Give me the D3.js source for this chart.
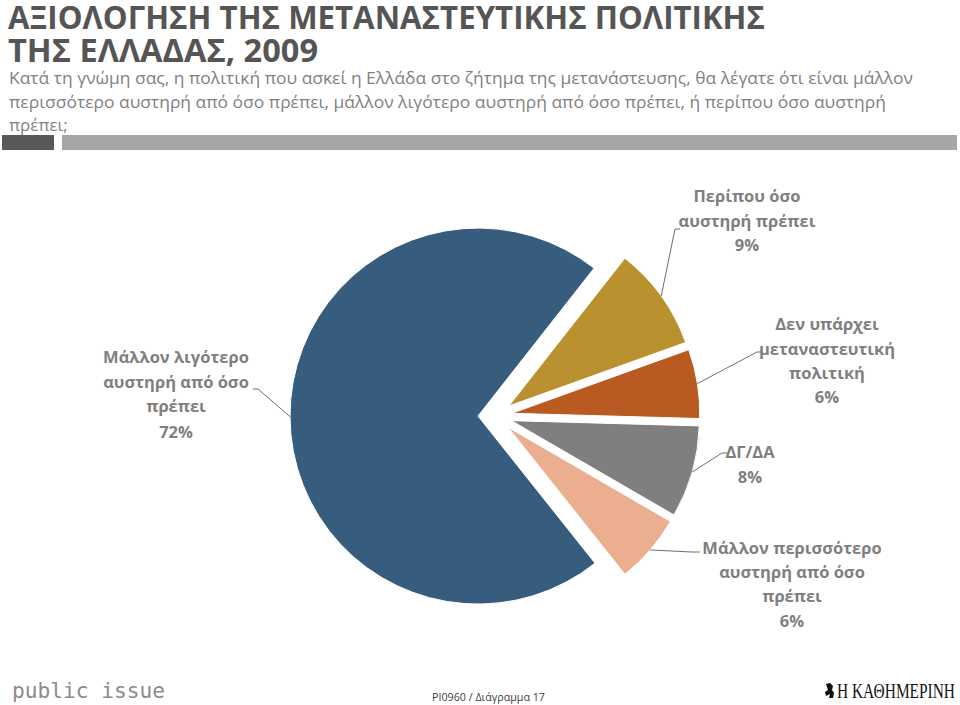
<!DOCTYPE html>
<html>
<head>
<meta charset="utf-8">
<script src="https://cdn.jsdelivr.net/npm/d3@7/dist/d3.min.js"></script>
<style>
  html, body { margin: 0; padding: 0; background: #fff; }
  svg { display: block; }
</style>
</head>
<body>
<script>
// ---------------- DATA ----------------
const categories = [
  "Μάλλον λιγότερο αυστηρή από όσο πρέπει",
  "Περίπου όσο αυστηρή πρέπει",
  "Δεν υπάρχει μεταναστευτική πολιτική",
  "ΔΓ/ΔΑ",
  "Μάλλον περισσότερο αυστηρή από όσο πρέπει"
];
const values = [72, 9, 6, 8, 6];
const labelLines = [
  ["Μάλλον λιγότερο", "αυστηρή από όσο", "πρέπει", "72%"],
  ["Περίπου όσο", "αυστηρή πρέπει", "9%"],
  ["Δεν υπάρχει", "μεταναστευτική", "πολιτική", "6%"],
  ["ΔΓ/ΔΑ", "8%"],
  ["Μάλλον περισσότερο", "αυστηρή από όσο", "πρέπει", "6%"]
];
const colors = ["#365C7E", "#B9912F", "#B95A22", "#7F7F7F", "#EBAE8F"];

const titleLines = ["ΑΞΙΟΛΟΓΗΣΗ ΤΗΣ ΜΕΤΑΝΑΣΤΕΥΤΙΚΗΣ ΠΟΛΙΤΙΚΗΣ", "ΤΗΣ ΕΛΛΑΔΑΣ, 2009"];
const subtitleLines = [
  "Κατά τη γνώμη σας, η πολιτική που ασκεί η Ελλάδα στο ζήτημα της μετανάστευσης, θα λέγατε ότι είναι μάλλον",
  "περισσότερο αυστηρή από όσο πρέπει, μάλλον λιγότερο αυστηρή από όσο πρέπει, ή περίπου όσο αυστηρή",
  "πρέπει;"
];
const footerCode = "PI0960 / Διάγραμμα 17";
const brandLeft = "public issue";
const brandRight = "Η ΚΑΘΗΜΕΡΙΝΗ";

// ---------------- LAYOUT ----------------
const W = 960, H = 705;
const cx = 495, cy = 416, R = 188, explode = 17;
const startDeg = 141.5;

const labelLayout = [
  { x: 176, y: 363, gaps: [24.5, 24.5, 26], elbow: [[258, 389], [253, 389]] },
  { x: 747, y: 202, gaps: [24.5, 24.5], elbow: [[675, 229], [680, 229]] },
  { x: 827, y: 330, gaps: [24.5, 24.5, 24], elbow: [[757, 352], [762, 352]] },
  { x: 750, y: 458, gaps: [24.5], elbow: [[722, 453], [727, 453]] },
  { x: 792, y: 554, gaps: [24, 24, 24.5], elbow: [[692, 552], [700, 552]] }
];

const svg = d3.select("body").append("svg")
  .attr("width", W).attr("height", H)
  .attr("viewBox", `0 0 ${W} ${H}`);

const SANS = "'Open Sans', 'Noto Sans', 'DejaVu Sans', sans-serif";

// ---------------- TITLE ----------------
const titleG = svg.append("g")
  .attr("font-family", SANS).attr("font-weight", 700)
  .attr("fill", "#555555").attr("font-size", 32);
titleG.append("text").attr("x", 8).attr("y", 29)
  .attr("textLength", 757).attr("lengthAdjust", "spacingAndGlyphs")
  .text(titleLines[0]);
titleG.append("text").attr("x", 8).attr("y", 62)
  .attr("textLength", 310).attr("lengthAdjust", "spacingAndGlyphs")
  .text(titleLines[1]);

const subG = svg.append("g")
  .attr("font-family", SANS).attr("fill", "#7F7F7F").attr("font-size", 17);
const subLens = [904, 877, null];
subtitleLines.forEach((t, i) => {
  const el = subG.append("text").attr("x", 9).attr("y", 84 + i * 23.5).text(t);
  if (subLens[i]) el.attr("textLength", subLens[i]).attr("lengthAdjust", "spacingAndGlyphs");
});

// separator bars
svg.append("rect").attr("x", 2).attr("y", 135).attr("width", 52).attr("height", 15).attr("fill", "#595959");
svg.append("rect").attr("x", 62).attr("y", 135).attr("width", 895).attr("height", 15).attr("fill", "#A6A6A6");

// ---------------- PIE ----------------
const toRad = d => d * Math.PI / 180;
const pie = d3.pie().sort(null).value(d => d)
  .startAngle(toRad(startDeg)).endAngle(toRad(startDeg) + 2 * Math.PI);
const arcs = pie(values);
const arc = d3.arc().innerRadius(0).outerRadius(R);

const pieG = svg.append("g").attr("transform", `translate(${cx},${cy})`);
arcs.forEach((a, i) => {
  const mid = (a.startAngle + a.endAngle) / 2;
  const dx = explode * Math.sin(mid), dy = -explode * Math.cos(mid);
  pieG.append("path")
    .attr("d", arc(a))
    .attr("transform", `translate(${dx},${dy})`)
    .attr("fill", colors[i])
    .attr("stroke", "#fff").attr("stroke-width", 1);
});

// ---------------- LABELS & LEADERS ----------------
const labG = svg.append("g")
  .attr("font-family", SANS).attr("font-weight", 700)
  .attr("font-size", 16.5).attr("fill", "#7F7F7F").attr("text-anchor", "middle");
const lineG = svg.append("g").attr("fill", "none").attr("stroke", "#6F6F6F").attr("stroke-width", 1);

arcs.forEach((a, i) => {
  const mid = (a.startAngle + a.endAngle) / 2;
  const rr = R + explode;
  const px = cx + rr * Math.sin(mid), py = cy - rr * Math.cos(mid);
  const L = labelLayout[i];
  const pts = [[px, py], ...L.elbow];
  lineG.append("path").attr("d", d3.line()(pts));
  let y = L.y;
  labelLines[i].forEach((t, j) => {
    labG.append("text").attr("x", L.x).attr("y", y).text(t);
    if (j < L.gaps.length) y += L.gaps[j];
  });
});

// ---------------- FOOTER ----------------
svg.append("text").attr("x", 12).attr("y", 698)
  .attr("font-family", "'DejaVu Sans Mono', monospace").attr("font-size", 21)
  .attr("fill", "#8C8C8C")
  .attr("textLength", 153).attr("lengthAdjust", "spacingAndGlyphs")
  .text(brandLeft);

svg.append("text").attr("x", 432).attr("y", 701)
  .attr("font-family", SANS).attr("font-size", 11.5).attr("fill", "#404040")
  .attr("textLength", 113).attr("lengthAdjust", "spacingAndGlyphs")
  .text(footerCode);

svg.append("path")
  .attr("d", "M826,684 L830,683 L833,686 L832,690 L834,693 L833,698 L829,698 L830,694 L826,696 L825,692 L828,690 Z")
  .attr("fill", "#111");
svg.append("text").attr("x", 837).attr("y", 698)
  .attr("font-family", "'Liberation Serif', 'DejaVu Serif', serif").attr("font-size", 21)
  .attr("fill", "#111")
  .attr("textLength", 118).attr("lengthAdjust", "spacingAndGlyphs")
  .text(brandRight);
</script>
</body>
</html>
